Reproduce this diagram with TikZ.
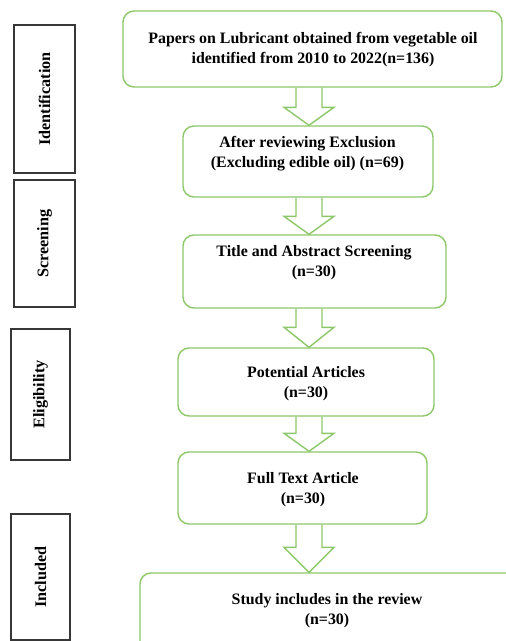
\documentclass[tikz,border=0pt]{standalone}
\usepackage{fontspec}
\setmainfont{Liberation Serif}
\usetikzlibrary{calc}
\definecolor{boxgreen}{RGB}{140,200,105}
\definecolor{labgray}{RGB}{55,55,55}
\tikzset{
  gbox/.style={draw=boxgreen, line width=1.4pt, rounded corners=11pt, fill=white, inner sep=0pt},
  gtext/.style={align=center, font=\bfseries\fontsize{15.9}{20}\selectfont, inner sep=0pt},
  lab/.style={draw=labgray, line width=1.3pt, rotate=90, inner sep=0pt, font=\bfseries\fontsize{16.2}{19}\selectfont},
  arr/.style={draw=boxgreen, line width=1.4pt, line join=miter}
}
\newcommand{\flowarrow}[3]{%
  \draw[arr] let \p1=(ax |- #1.south), \p2=(ax |- #2.north) in
    (\x1-13pt,\y1) -- (\x1-13pt,\y2+#3pt) -- (\x1-25pt,\y2+#3pt) -- (\x2,\y2)
    -- (\x1+25pt,\y2+#3pt) -- (\x1+13pt,\y2+#3pt) -- (\x1+13pt,\y1);}
\begin{document}
\begin{tikzpicture}[x=1pt,y=-1pt]
\useasboundingbox (0,0) rectangle (506,641);
\clip (0,0) rectangle (506,641);
\fill[white] (0,0) rectangle (506,641);
\coordinate (ax) at (309,0);
% green boxes
\node[gbox, minimum width=379pt, minimum height=76pt] (b1) at (312.5,49) {};
\node[gbox, minimum width=250pt, minimum height=71pt] (b2) at (308,161.5) {};
\node[gbox, minimum width=263pt, minimum height=73pt] (b3) at (314.5,271.5) {};
\node[gbox, minimum width=256pt, minimum height=68pt] (b4) at (306,382) {};
\node[gbox, minimum width=249pt, minimum height=72pt] (b5) at (302.5,488) {};
\node[gbox, minimum width=380pt, minimum height=87pt] (b6) at (330,616.5) {};
% texts
\node[gtext] (t1) at (313,50) {Papers on Lubricant obtained from vegetable oil\\identified from 2010 to 2022(n=136)};
\node[gtext] (t2) at (307.5,153.5) {After reviewing Exclusion\\(Excluding edible oil) (n=69)};
\node[gtext] (t3) at (314,263) {Title and Abstract Screening\\(n=30)};
\node[gtext] (t4) at (306,383.5) {Potential Articles\\(n=30)};
\node[gtext] (t5) at (303,489.5) {Full Text Article\\(n=30)};
\node[gtext] (t6) at (327,610.5) {Study includes in the review\\(n=30)};
% arrows
\flowarrow{b1}{b2}{18}
\flowarrow{b2}{b3}{18}
\flowarrow{b3}{b4}{20}
\flowarrow{b4}{b5}{18}
\flowarrow{b5}{b6}{25}
% stage labels
\node[lab, minimum width=148pt, minimum height=61pt] (l1) at (44.5,99) {Identification};
\node[lab, minimum width=127pt, minimum height=61pt] (l2) at (44.5,243.5) {Screening};
\node[lab, minimum width=131pt, minimum height=59pt] (l3) at (40.5,394.5) {Eligibility};
\node[lab, minimum width=126pt, minimum height=59pt] (l4) at (40.5,577) {Included};
\end{tikzpicture}
\end{document}
